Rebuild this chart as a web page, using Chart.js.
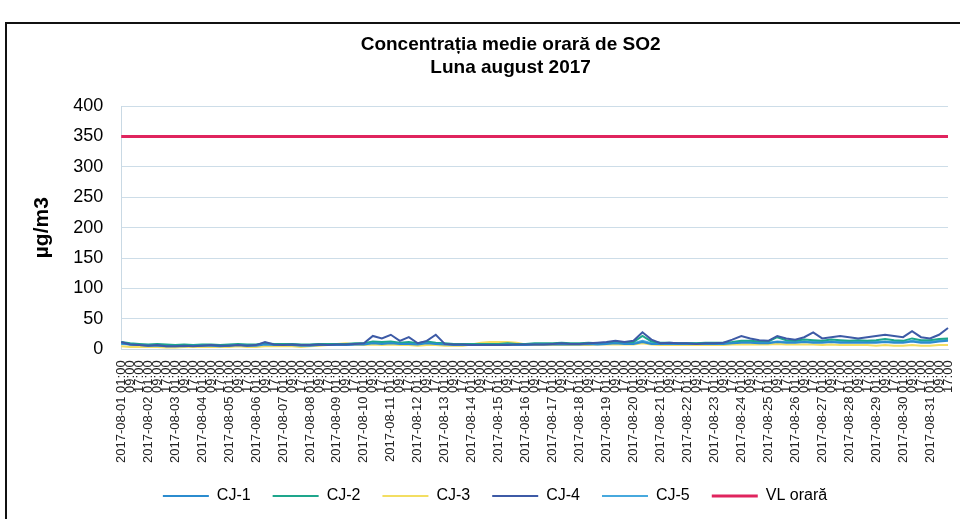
<!DOCTYPE html>
<html>
<head>
<meta charset="utf-8">
<script src="https://cdn.jsdelivr.net/npm/chart.js@4.4.1/dist/chart.umd.min.js"></script>
<style>
html,body{margin:0;padding:0;background:#fff;overflow:hidden;}
#wrap{position:relative;width:960px;height:519px;}
#frame{position:absolute;left:5px;top:22px;width:960px;height:520px;border:2px solid #111;box-sizing:border-box;}
canvas{position:absolute;left:0;top:0;}
</style>
</head>
<body>
<div id="wrap">
<div id="frame"></div>
<canvas id="c" width="960" height="519"></canvas>
</div>
<script>
const TITLE_LINES = ["Concentrația medie orară de SO2", "Luna august 2017"];
const Y_TITLE = "µg/m3";
const DAYS = ["01","02","03","04","05","06","07","08","09","10","11","12","13","14","15","16","17","18","19","20","21","22","23","24","25","26","27","28","29","30","31"];
const HOURS = ["01:00","09:00","17:00"];
const SERIES_NAMES = ["CJ-1","CJ-2","CJ-3","CJ-4","CJ-5","VL orară"];
const VL_ORARA = 350;

const CJ1 = [10,8,7, 6,6,5, 5,5,6, 6,6,5, 6,7,6, 6,8,7, 7,7,6, 6,7,7, 7,7,8, 8,10,9,
  10,9,9, 8,10,9, 8,7,7, 7,7,7, 7,8,7, 7,8,8, 8,8,8, 8,9,8, 9,10,9, 9,12,9,
  9,9,9, 9,9,9, 9,9,10, 11,11,10, 10,12,11, 11,12,11, 11,12,11, 11,11,11, 11,12,11, 11,13,11, 11,13,14];
const CJ2 = [12,10,9, 8,9,8, 7,8,7, 8,8,7, 8,9,8, 8,10,9, 9,9,8, 8,9,9, 9,9,10, 10,13,12,
  13,11,12, 10,13,11, 10,9,9, 9,9,9, 9,10,9, 9,10,10, 10,11,10, 10,11,10, 11,13,11, 12,22,13,
  11,11,10, 10,10,11, 11,11,12, 14,14,13, 13,20,15, 14,16,15, 14,16,15, 14,15,14, 15,17,15, 14,18,15, 15,17,18];
const CJ3 = [5,4,4, 4,4,3, 3,4,4, 4,4,4, 4,5,4, 4,5,5, 5,5,4, 5,6,7, 9,10,8, 7,8,7,
  8,7,7, 6,7,7, 6,6,6, 8,11,12, 12,12,11, 8,7,7, 7,7,7, 7,7,8, 8,8,8, 8,10,8,
  7,7,7, 7,7,7, 7,7,8, 8,8,8, 8,9,8, 8,8,8, 7,8,7, 7,7,7, 6,7,6, 6,7,6, 6,7,7];
const CJ4 = [12,8,7, 6,7,5, 5,6,5, 6,7,6, 6,7,6, 7,12,8, 7,8,7, 7,8,7, 8,8,9, 10,22,18,
  24,14,20, 10,14,24, 9,8,8, 7,7,7, 7,7,8, 8,8,8, 9,10,9, 9,10,11, 12,14,12, 14,28,16,
  10,11,10, 10,9,10, 10,11,16, 22,18,15, 14,22,18, 16,20,28, 18,20,22, 20,18,20, 22,24,22, 20,30,20, 18,24,35];
const CJ5 = [9,8,7, 7,7,6, 6,6,6, 6,7,6, 7,7,7, 7,9,8, 8,8,7, 7,8,8, 8,8,8, 9,11,10,
  11,10,10, 9,11,10, 9,8,8, 8,8,8, 8,8,8, 8,9,9, 9,9,9, 9,9,9, 10,11,10, 10,14,10,
  10,10,10, 10,10,10, 10,10,11, 12,12,11, 11,13,12, 12,13,12, 12,13,12, 12,12,12, 12,13,12, 12,14,12, 12,14,16];
const Y_TICKS = [0,50,100,150,200,250,300,350,400];

const COLORS = ["#2b8ccf","#1ea68c","#f3de62","#3d5aa6","#47a9de","#e0245e"];

const labels = [];
DAYS.forEach(d => HOURS.forEach(h => labels.push("2017-08-" + d + " " + h)));
const vl = labels.map(() => VL_ORARA);
const seriesData = [CJ1, CJ2, CJ3, CJ4, CJ5, vl];

const datasets = SERIES_NAMES.map((n, i) => ({
  label: n,
  data: seriesData[i],
  borderColor: COLORS[i],
  backgroundColor: COLORS[i],
  borderWidth: i === 5 ? 3 : 2,
  pointRadius: 0,
  pointStyle: 'line',
  tension: 0,
  fill: false,
  order: i === 3 ? 0 : (i === 5 ? -1 : 1)
}));

const titlePlugin = {
  id: 'twoLineTitle',
  afterDraw(chart) {
    const ctx = chart.ctx;
    const ca = chart.chartArea;
    ctx.save();
    ctx.fillStyle = '#000';
    ctx.font = 'bold 19px "Liberation Sans", Arial, sans-serif';
    ctx.textAlign = 'center';
    ctx.textBaseline = 'middle';
    const cx = (ca.left + ca.right) / 2 - 24;
    ctx.fillText(TITLE_LINES[0], cx, 45);
    ctx.fillText(TITLE_LINES[1], cx, 68);
    ctx.restore();
  }
};

new Chart(document.getElementById('c'), {
  type: 'line',
  data: { labels, datasets },
  plugins: [titlePlugin],
  options: {
    responsive: false,
    animation: false,
    layout: { padding: { top: 106, left: 30, right: 0, bottom: 5 } },
    plugins: {
      title: { display: false },
      tooltip: { enabled: false },
      legend: {
        position: 'bottom',
        labels: {
          usePointStyle: true,
          pointStyleWidth: 46,
          color: '#000',
          font: { size: 16, family: '"Liberation Sans", Arial, sans-serif' },
          padding: 22,
          sort: (a, b) => a.datasetIndex - b.datasetIndex
        }
      }
    },
    scales: {
      x: {
        offset: false,
        grid: { display: false },
        border: { color: '#c9d9e4' },
        afterFit: (s) => { s.paddingRight = 12; },
        ticks: {
          autoSkip: false,
          maxRotation: 90,
          minRotation: 90,
          padding: 3,
          color: '#222',
          font: { size: 13, family: '"Liberation Sans", Arial, sans-serif' },
          callback: function(v, i) {
            const l = labels[i];
            return l.endsWith(HOURS[0]) ? l : l.slice(11);
          }
        }
      },
      y: {
        min: 0, max: 400,
        afterBuildTicks: (s) => { s.ticks = Y_TICKS.map(v => ({ value: v })); },
        grid: { color: '#cddde8', lineWidth: 1, drawTicks: false },
        border: { color: '#c9d9e4' },
        ticks: {
          color: '#000',
          padding: 18,
          font: { size: 18, family: '"Liberation Sans", Arial, sans-serif' }
        },
        title: {
          display: true,
          text: Y_TITLE,
          color: '#000',
          padding: { top: 0, bottom: 0 },
          font: { size: 21, weight: 'bold', family: '"Liberation Sans", Arial, sans-serif' }
        }
      }
    }
  }
});
</script>
</body>
</html>
